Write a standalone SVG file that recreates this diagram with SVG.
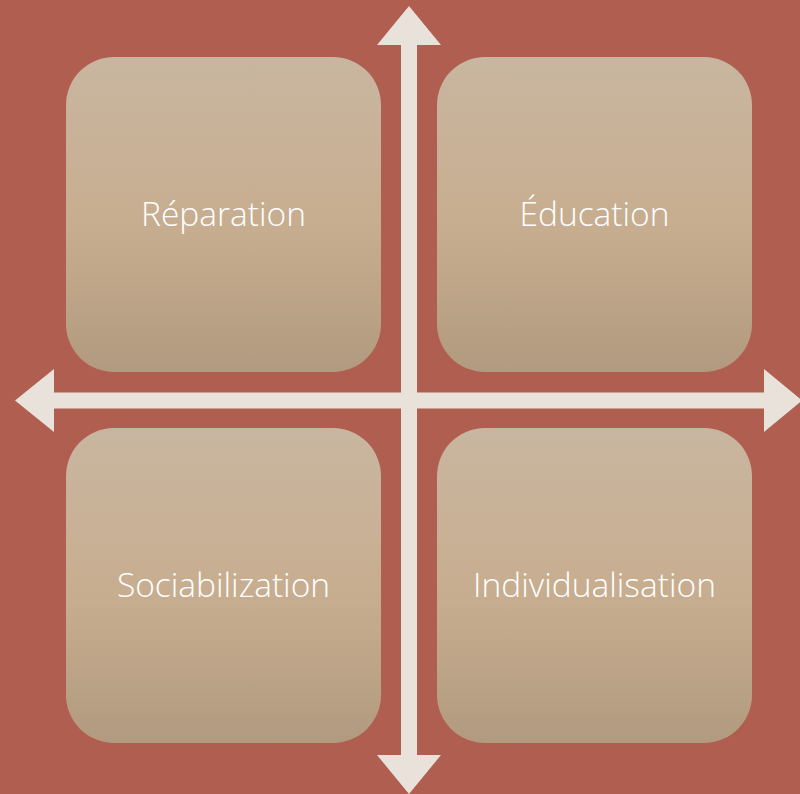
<svg xmlns="http://www.w3.org/2000/svg" width="800" height="794" viewBox="0 0 800 794">
<defs>
<linearGradient id="g" x1="0" y1="0" x2="0" y2="1">
<stop offset="0" stop-color="#C9B6A0"/>
<stop offset="0.55" stop-color="#C7AD8F"/>
<stop offset="1" stop-color="#B19A7F"/>
</linearGradient>
<style>
.box{fill:url(#g);}
.lbl{fill:#FFFFFF;font-family:"Open Sans",Lato,sans-serif;font-weight:300;font-size:33.5px;text-anchor:middle;}
.arr{fill:#E9E2DB;}
</style>
</defs>
<rect width="800" height="794" fill="#B05E4F"/>
<g id="n1"><rect class="box" x="66" y="57" width="315" height="315" rx="48"/><text class="lbl" x="223.5" y="226">Réparation</text></g>
<g id="n2"><rect class="box" x="437" y="57" width="315" height="315" rx="48"/><text class="lbl" x="594.5" y="226">Éducation</text></g>
<g id="n3"><rect class="box" x="66" y="428" width="315" height="315" rx="48"/><text class="lbl" x="223.5" y="597">Sociabilization</text></g>
<g id="n4"><rect class="box" x="437" y="428" width="315" height="315" rx="48"/><text class="lbl" x="594.5" y="597">Individualisation</text></g>
<g id="connectors">
<polygon class="arr" points="409,6 441,45 417,45 417,755 441,755 409,794 377,755 401,755 401,45 377,45"/>
<polygon class="arr" points="15,400.5 54,369 54,392.5 764,392.5 764,369 802,400.5 764,432 764,408.5 54,408.5 54,432"/>
</g>
</svg>
